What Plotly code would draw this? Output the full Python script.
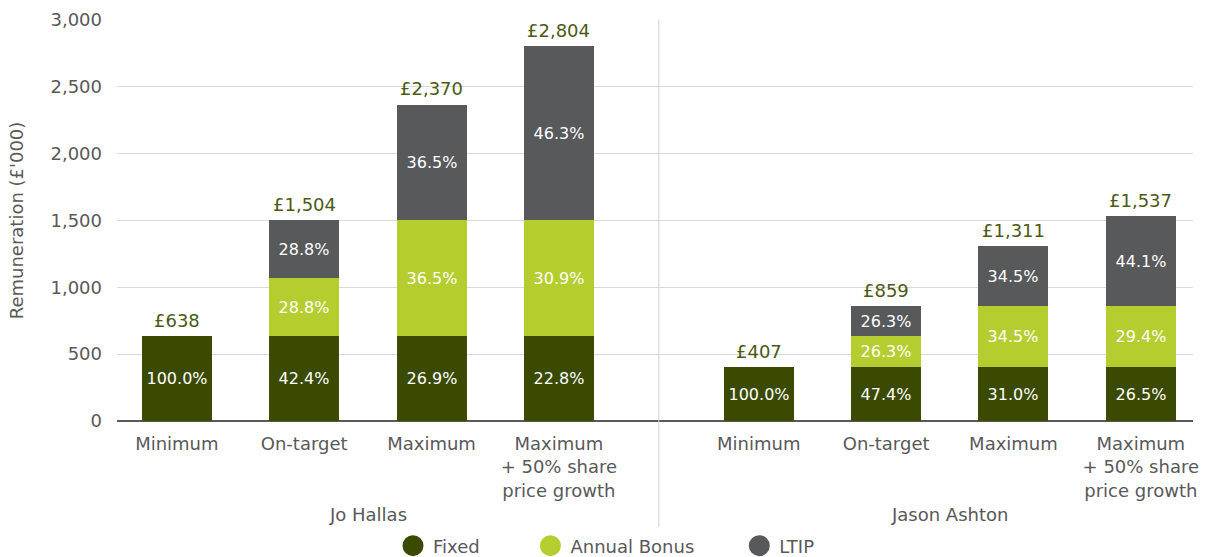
import plotly.graph_objects as go

# Remuneration scenarios (£'000) for each director
directors = ["Jo Hallas", "Jason Ashton"]
scenarios = ["Minimum", "On-target", "Maximum", "Maximum<br>+ 50% share<br>price growth"]

jo_totals = [638, 1504, 2370, 2804]
jo_fixed_pct = [100.0, 42.4, 26.9, 22.8]
jo_bonus_pct = [0.0, 28.8, 36.5, 30.9]
jo_ltip_pct = [0.0, 28.8, 36.5, 46.3]

jason_totals = [407, 859, 1311, 1537]
jason_fixed_pct = [100.0, 47.4, 31.0, 26.5]
jason_bonus_pct = [0.0, 26.3, 34.5, 29.4]
jason_ltip_pct = [0.0, 26.3, 34.5, 44.1]

y_ticks = [0, 500, 1000, 1500, 2000, 2500, 3000]

FIXED = "#3a4a00"
BONUS = "#b6cd2f"
LTIP = "#58595b"
TOTAL_TXT = "#4b5a14"
GREY_TXT = "#595959"
FONT = "DejaVu Sans"
NBSP = "\u00a0"

GROUP_GAP = 1.57  # spacing between the two directors' groups, in bar slots
x_jo = [i for i in range(len(scenarios))]
x_jason = [i + len(scenarios) - 1 + GROUP_GAP for i in range(len(scenarios))]
xs = x_jo + x_jason
totals = jo_totals + jason_totals
fixed_pct = jo_fixed_pct + jason_fixed_pct
bonus_pct = jo_bonus_pct + jason_bonus_pct
ltip_pct = jo_ltip_pct + jason_ltip_pct


def seg(total, pct):
    return [t * p / 100.0 for t, p in zip(total, pct)]


def labels(pct):
    return [f"{p:.1f}%" if p > 0 else "" for p in pct]


fig = go.Figure()
series = [("Fixed", fixed_pct, FIXED, 8),
          ("Annual Bonus", bonus_pct, BONUS, 7),
          ("LTIP", ltip_pct, LTIP, 0)]
for name, pct, color, pad in series:
    fig.add_trace(go.Bar(
        x=xs, y=seg(totals, pct), name=name, marker_color=color,
        marker_line_width=0, width=0.55,
        text=labels(pct), textposition="inside", insidetextanchor="middle",
        textangle=0, textfont=dict(color="white", size=16, family=FONT),
        showlegend=False, hoverinfo="skip",
    ))
    # circular legend swatch
    fig.add_trace(go.Scatter(
        x=[None], y=[None], mode="markers", name=name + NBSP * pad,
        marker=dict(symbol="circle", size=22, color=color,
                    line=dict(color=color, width=5)),
    ))

# Totals above each stack
for x, t in zip(xs, totals):
    fig.add_annotation(x=x, y=t, text=f"£{t:,}", showarrow=False,
                       yanchor="bottom", yshift=3,
                       font=dict(size=18, color=TOTAL_TXT, family=FONT))

# Director names under each group
for name, group in zip(directors, [x_jo, x_jason]):
    fig.add_annotation(x=(group[0] + group[-1]) / 2, y=-0.234, yref="paper",
                       text=name, showarrow=False, yanchor="middle",
                       font=dict(size=18, color=GREY_TXT, family=FONT))

# Separator between the two groups
sep_x = (x_jo[-1] + x_jason[0]) / 2
fig.add_shape(type="line", x0=sep_x, x1=sep_x, xref="x", yref="paper",
              y0=-0.272, y1=1.0, line=dict(color="#d0d0d0", width=1))

fig.update_layout(
    width=1206, height=557,
    margin=dict(l=117, r=13, t=20, b=136, autoexpand=False),
    paper_bgcolor="white", plot_bgcolor="white",
    barmode="stack", bargap=0,
    font=dict(family=FONT, color=GREY_TXT, size=18),
    legend=dict(orientation="h", x=0.2565, xanchor="left", y=-0.3117, yanchor="middle",
                font=dict(size=18, color=GREY_TXT, family=FONT),
                traceorder="normal"),
    xaxis=dict(tickmode="array", tickvals=xs, ticktext=scenarios * 2,
               range=[-0.47, x_jason[-1] + 0.41], showgrid=False,
               showline=False, zeroline=False, ticks="", ticklabelstandoff=10,
               tickfont=dict(size=18, color=GREY_TXT, family=FONT)),
    yaxis=dict(range=[0, 3000], tickvals=y_ticks, tickformat=",",
               showgrid=True, gridcolor="#d9d9d9", gridwidth=1,
               zeroline=True, zerolinecolor="#595959", zerolinewidth=2,
               showline=False, ticks="", ticklabelstandoff=14,
               title=dict(text="Remuneration (£'000)", standoff=22,
                          font=dict(size=18, color=GREY_TXT, family=FONT)),
               tickfont=dict(size=18, color=GREY_TXT, family=FONT)),
)

fig.write_html("out.html")
